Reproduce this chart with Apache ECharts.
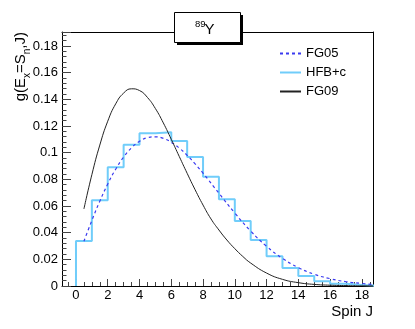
<!DOCTYPE html>
<html>
<head>
<meta charset="utf-8">
<script src="https://cdn.jsdelivr.net/npm/echarts@6/dist/echarts.min.js"></script>
<style>
html, body { margin: 0; padding: 0; background: #fff; }
#chart { width: 415px; height: 329px; }
</style>
</head>
<body>
<div id="chart"></div>
<script>
// HFB+c histogram, one value per spin bin [J, J+1)
const binEdges = [0, 1, 2, 3, 4, 5, 6, 7, 8, 9, 10, 11, 12, 13, 14, 15, 16, 17, 18, 19];
const hfbValues = [0.0338, 0.0643, 0.0890, 0.1060, 0.1145, 0.1153, 0.1088, 0.0968, 0.0820, 0.0650,
                   0.0488, 0.0345, 0.0223, 0.0135, 0.0075, 0.0036, 0.0016, 0.0007, 0.0003];

// FG05 (dashed blue)
const fg05Spin = [0.5, 1, 1.5, 2, 2.5, 3, 3.5, 4, 4.5, 5, 5.5, 6, 6.5, 7, 7.5, 8, 9, 10, 11, 12, 13, 14, 15, 16, 17, 18, 18.7];
const fg05Values = [0.0335, 0.0491, 0.0636, 0.0765, 0.0876, 0.0967, 0.1037, 0.1085, 0.1112, 0.1119, 0.1107, 0.1078,
                    0.1035, 0.0980, 0.0916, 0.0846, 0.0696, 0.0547, 0.0412, 0.0298, 0.0207, 0.0138, 0.0088,
                    0.0055, 0.0032, 0.0019, 0.0012];

// FG09 (solid black)
const fg09Spin = [0.5, 1, 1.5, 2, 2.5, 3, 3.5, 4, 4.5, 5, 5.5, 6, 6.5, 7, 7.5, 8, 8.5, 9, 9.5, 10, 10.5, 11, 12, 13, 14, 15, 16, 17, 18, 18.7];
const fg09Values = [0.0578, 0.0835, 0.1057, 0.1236, 0.1366, 0.1447, 0.1479, 0.1466, 0.1414, 0.1331, 0.1223, 0.1100,
                    0.0972, 0.0845, 0.0722, 0.0607, 0.0503, 0.0420, 0.0345, 0.0280, 0.0222, 0.0172, 0.0097,
                    0.0050, 0.0025, 0.0012, 0.0006, 0.0003, 0.0001, 0.0001];

const xTickLabels = [0, 2, 4, 6, 8, 10, 12, 14, 16, 18];
const xMinorTicks = [];
for (let v = -0.5; v <= 18.5; v += 0.5) {
    if (xTickLabels.indexOf(v) < 0) xMinorTicks.push(v);
}

const hfbData = [[binEdges[0], 0]];
hfbValues.forEach((v, i) => hfbData.push([binEdges[i], v]));
hfbData.push([binEdges[binEdges.length - 1], hfbValues[hfbValues.length - 1]]);

const zip = (xs, ys) => xs.map((x, i) => [x, ys[i]]);

const FONT = 'Liberation Sans';
const XMIN = -0.88, XMAX = 18.7;

const chart = echarts.init(document.getElementById('chart'));
chart.setOption({
    animation: false,
    backgroundColor: '#fff',
    grid: { left: 62, right: 42, top: 32, bottom: 43, show: false },
    legend: {
        data: ['FG05', 'HFB+c', 'FG09'],
        orient: 'vertical',
        left: 274, top: 42,
        itemWidth: 21, itemHeight: 14, itemGap: 6,
        itemStyle: { opacity: 0 },
        textStyle: { fontFamily: FONT, fontSize: 13, color: '#000' }
    },
    xAxis: [
        {
            type: 'value', min: XMIN, max: XMAX, position: 'bottom',
            axisLine: { show: true, onZero: false, lineStyle: { color: '#000' } },
            axisTick: { show: true, inside: true, length: 7, customValues: xTickLabels, lineStyle: { color: '#444' } },
            axisLabel: { customValues: xTickLabels, color: '#000', fontFamily: FONT, fontSize: 13, margin: 3 },
            splitLine: { show: false }
        },
        {
            type: 'value', min: XMIN, max: XMAX, position: 'bottom',
            axisLine: { show: false },
            axisTick: { show: true, inside: true, length: 4, customValues: xMinorTicks, lineStyle: { color: '#444' } },
            axisLabel: { show: false },
            splitLine: { show: false }
        },
        {
            type: 'value', min: XMIN, max: XMAX, position: 'top',
            axisLine: { show: true, onZero: false, lineStyle: { color: '#000' } },
            axisTick: { show: false }, axisLabel: { show: false }, splitLine: { show: false }
        }
    ],
    yAxis: [
        {
            type: 'value', min: 0, max: 0.1905, interval: 0.02, position: 'left',
            axisLine: { show: true, onZero: false, lineStyle: { color: '#000' } },
            axisTick: { show: true, inside: true, length: 9, lineStyle: { color: '#444' } },
            minorTick: { show: true, splitNumber: 5, length: 4.5, lineStyle: { color: '#444' } },
            axisLabel: { color: '#000', fontFamily: FONT, fontSize: 13, margin: 4, showMaxLabel: false },
            splitLine: { show: false }
        },
        {
            type: 'value', min: 0, max: 0.1905, position: 'right',
            axisLine: { show: true, onZero: false, lineStyle: { color: '#000' } },
            axisTick: { show: false }, axisLabel: { show: false }, splitLine: { show: false }
        }
    ],
    series: [
        {
            name: 'HFB+c', type: 'line', step: 'end', data: hfbData, symbol: 'none',
            lineStyle: { color: '#70cdfa', width: 2 }, itemStyle: { color: '#70cdfa' }, z: 2
        },
        {
            name: 'FG05', type: 'line', smooth: true, data: zip(fg05Spin, fg05Values), symbol: 'none',
            lineStyle: { color: '#3a3af0', width: 1.2, type: [3, 3] }, itemStyle: { color: '#3a3af0' }, z: 3
        },
        {
            name: 'FG09', type: 'line', smooth: true, data: zip(fg09Spin, fg09Values), symbol: 'none',
            lineStyle: { color: '#222', width: 1 }, itemStyle: { color: '#222' }, z: 4
        }
    ],
    graphic: [
        { type: 'rect', z: 100, shape: { x: 177, y: 15, width: 66, height: 30 }, style: { fill: '#000' } },
        { type: 'rect', z: 101, shape: { x: 174.5, y: 12.5, width: 66, height: 30 }, style: { fill: '#fff', stroke: '#000', lineWidth: 1 } },
        { type: 'text', z: 102, x: 195, y: 24.5, style: { text: '89', fontFamily: FONT, fontSize: 9.5, fill: '#000', align: 'left', verticalAlign: 'middle' } },
        { type: 'text', z: 102, x: 204.5, y: 30, style: { text: 'Y', fontFamily: FONT, fontSize: 15, fill: '#000', align: 'left', verticalAlign: 'middle' } },
        { type: 'text', z: 102, x: 373, y: 312, style: { text: 'Spin J', fontFamily: FONT, fontSize: 15, fill: '#000', align: 'right', verticalAlign: 'middle' } },
        {
            type: 'text', z: 102, x: 21, y: 32, rotation: Math.PI / 2,
            style: {
                text: '{n|g(E}{s|x}{n|=S}{s|n}{n|,J)}',
                align: 'right', verticalAlign: 'middle', fill: '#000',
                rich: {
                    n: { fontFamily: FONT, fontSize: 15, lineHeight: 22, fill: '#000' },
                    s: { fontFamily: FONT, fontSize: 10, lineHeight: 10, verticalAlign: 'bottom', fill: '#000' }
                }
            }
        }
    ]
});
</script>
</body>
</html>
